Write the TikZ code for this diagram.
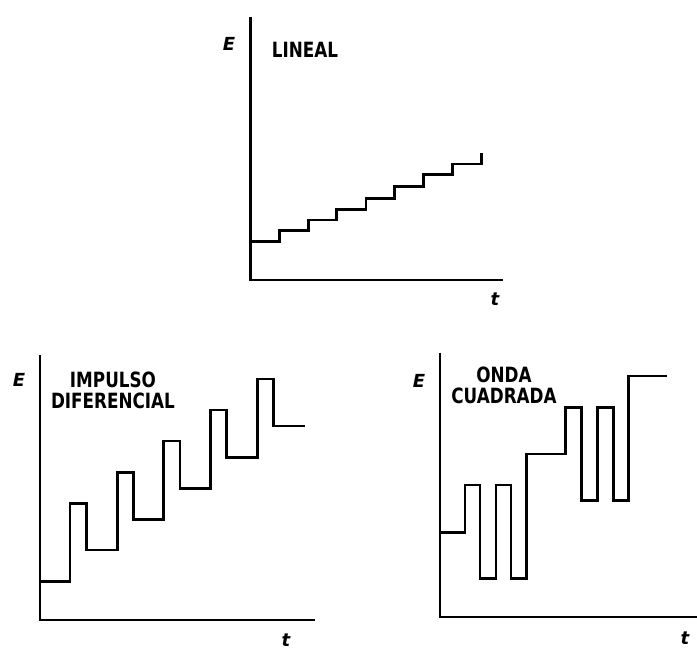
\documentclass[tikz,border=0pt]{standalone}
\usepackage{fontspec}
\newfontfamily\lblfont{DejaVu Sans}[FakeStretch=0.8]
\newfontfamily\axfont{DejaVu Sans}
\begin{document}
\begin{tikzpicture}[x=1pt,y=-1pt,
  axisline/.style={line width=2.8pt, line join=miter},
  wave/.style={line width=2.6pt, line join=miter},
  title/.style={inner sep=0pt, align=center, font=\lblfont\bfseries\fontsize{21}{21.5}\selectfont},
  axlab/.style={inner sep=0pt, font=\axfont\bfseries\itshape\fontsize{18}{20}\selectfont}]
\useasboundingbox (0,0) rectangle (697,650);

% ---------- top chart: LINEAL ----------
\coordinate (oA) at (250.5,280);
\coordinate (yA) at (250.5,17);
\coordinate (xA) at (503,280);
\draw[axisline] (yA) -- (oA) -- (xA);
\node[axlab] (EA) at (229,44) {E};
\node[axlab] (tA) at (495,299) {t};
\node[title, anchor=north] (LA) at (305,41.7) {LINEAL};
\draw[wave] (250,241.7) -- (279.3,241.7) -- (279.3,230.7) -- (308.3,230.7) -- (308.3,220)
  -- (336.7,220) -- (336.7,209.3) -- (366,209.3) -- (366,198.3) -- (394.3,198.3)
  -- (394.3,186.7) -- (423.3,186.7) -- (423.3,174.3) -- (452.3,174.3) -- (452.3,164)
  -- (481.7,164) -- (481.7,152.7);

% ---------- bottom left: IMPULSO DIFERENCIAL ----------
\coordinate (oB) at (40,620);
\coordinate (yB) at (40,355);
\coordinate (xB) at (315,620);
\draw[axisline] (yB) -- (oB) -- (xB);
\node[axlab] (EB) at (19,380) {E};
\node[axlab] (tB) at (286,640) {t};
\node[title, anchor=north] (LB) at (113,371.7) {IMPULSO\\DIFERENCIAL};
\draw[wave] (40,581.7) -- (70,581.7) -- (70,503.3) -- (86.7,503.3) -- (86.7,550)
  -- (117.3,550) -- (117.3,472.3) -- (133.3,472.3) -- (133.3,519.7) -- (163.3,519.7)
  -- (163.3,441) -- (180,441) -- (180,488.3) -- (210.7,488.3) -- (210.7,410)
  -- (226.7,410) -- (226.7,457.3) -- (257.3,457.3) -- (257.3,379) -- (273.3,379)
  -- (273.3,426) -- (305,426);

% ---------- bottom right: ONDA CUADRADA ----------
\coordinate (oC) at (440,617);
\coordinate (yC) at (440,352.7);
\coordinate (xC) at (697,617);
\draw[axisline] (yC) -- (oC) -- (xC);
\node[axlab] (EC) at (419,381) {E};
\node[axlab] (tC) at (685,638) {t};
\node[title, anchor=north] (LC) at (504,366.7) {ONDA\\CUADRADA};
\draw[wave] (440,532.3) -- (465,532.3) -- (465,485) -- (480,485) -- (480,578.3)
  -- (496,578.3) -- (496,485) -- (511,485) -- (511,578.3) -- (526.7,578.3)
  -- (526.7,454) -- (565.7,454) -- (565.7,407.3) -- (581.7,407.3) -- (581.7,500.7)
  -- (597.7,500.7) -- (597.7,407.3) -- (613.3,407.3) -- (613.3,500.7) -- (628.7,500.7)
  -- (628.7,376) -- (666.7,376);
\end{tikzpicture}
\end{document}
